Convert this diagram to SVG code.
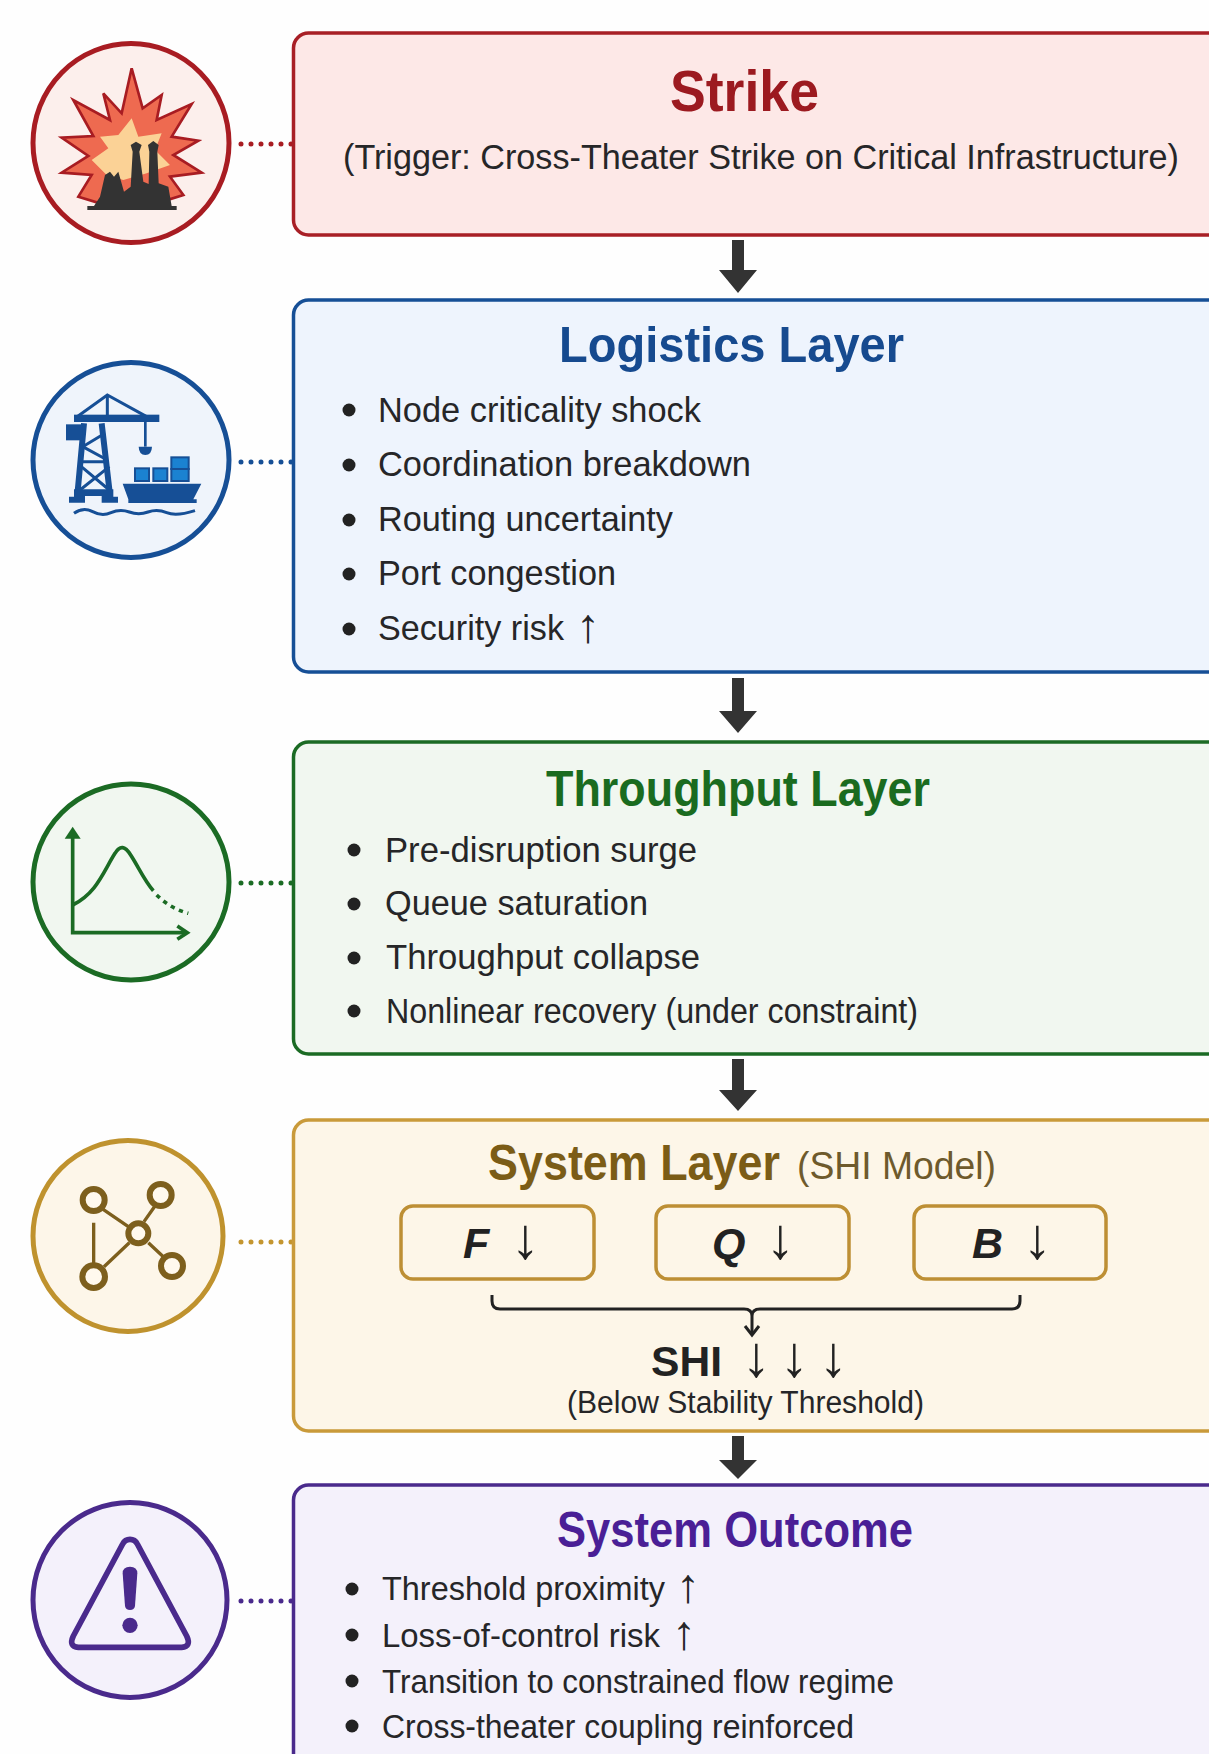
<svg xmlns="http://www.w3.org/2000/svg" width="1209" height="1754" viewBox="0 0 1209 1754">
<defs>
<style>
text{font-family:"Liberation Sans",Arial,sans-serif;fill:#262628}
.b{font-size:35px}
.t{font-weight:700;font-size:50px}
.h{fill:#333;stroke:none}
.dot{fill:none;stroke-width:5;stroke-linecap:round;stroke-dasharray:0 10}
.up{font-size:48px}
.dn{font-size:58px;font-weight:400;font-style:normal;fill:#222}
.fq{font-size:43px;font-weight:700;font-style:italic;fill:#222}
</style>
</defs>
<rect width="1209" height="1754" fill="#fefefe"/>
<g id="connectors">
<g class="h">
<path d="M732 240h12v30h13l-19 23l-19-23h13z"/>
<path d="M732 678h12v33h13l-19 22l-19-22h13z"/>
<path d="M732 1059h12v31h13l-19 21l-19-21h13z"/>
<path d="M732 1436h12v24h13l-19 19l-19-19h13z"/>
</g>
<path class="dot" stroke="#a81c22" d="M241 144H293"/>
<path class="dot" stroke="#164f96" d="M241 462H293"/>
<path class="dot" stroke="#1b6b24" d="M241 883H293"/>
<path class="dot" stroke="#c4952f" d="M241 1242H293"/>
<path class="dot" stroke="#4a2a8c" d="M241 1601H293"/>
</g>

<g id="strike">
<rect x="293.500" y="33" width="1000" height="202" rx="15" fill="#fde8e7" stroke="#a81f26" stroke-width="3.500"/>
<text class="t" x="670" y="111" style="font-size:57px;fill:#9c1a20" textLength="149" lengthAdjust="spacingAndGlyphs">Strike</text>
<text class="b" x="343" y="169" textLength="836" lengthAdjust="spacingAndGlyphs">(Trigger: Cross-Theater Strike on Critical Infrastructure)</text>
<g id="strike-icon">
<ellipse cx="131" cy="143" rx="98" ry="99.500" fill="#fcefec" stroke="#a81c22" stroke-width="5"/>
<g transform="scale(.33333)">
<path d="M395 205L428 325L485 285L470 360L575 312L515 410L595 422L520 465L605 518L510 530L550 585L470 610L300 610L235 590L275 525L185 518L265 468L185 413L280 408L220 300L330 360L310 280L365 340Z" fill="#ee6a50" stroke="#a81c22" stroke-width="8" stroke-linejoin="miter"/>
<path d="M395 355L415 410L485 400L465 450L510 495L440 520L370 540L320 525L275 480L325 445L300 410L355 405Z" fill="#fbd296"/>
<path d="M262 630V618H282L300 590L315 525L330 515L342 530L355 515L372 575L392 560L398 455L392 435L408 425L425 435L418 455L430 545L446 552L448 455L444 435L460 423L476 435L472 455L476 550L505 560L515 618H530V630Z" fill="#333"/>
</g>
</g>
</g>

<g id="logistics">
<rect x="293.500" y="300" width="1000" height="372" rx="15" fill="#eef4fd" stroke="#164f96" stroke-width="3.500"/>
<text class="t" x="559" y="362" style="fill:#164a8f" textLength="345" lengthAdjust="spacingAndGlyphs">Logistics Layer</text>
<g fill="#222"><circle cx="349" cy="410" r="6.500"/><circle cx="349" cy="465" r="6.500"/><circle cx="349" cy="520" r="6.500"/><circle cx="349" cy="574" r="6.500"/><circle cx="349" cy="629" r="6.500"/></g>
<text class="b" x="378" y="422" textLength="323" lengthAdjust="spacingAndGlyphs">Node criticality shock</text>
<text class="b" x="378" y="476" textLength="373" lengthAdjust="spacingAndGlyphs">Coordination breakdown</text>
<text class="b" x="378" y="531" textLength="295" lengthAdjust="spacingAndGlyphs">Routing uncertainty</text>
<text class="b" x="378" y="585" textLength="238" lengthAdjust="spacingAndGlyphs">Port congestion</text>
<text class="b" x="378" y="640"><tspan textLength="186" lengthAdjust="spacingAndGlyphs">Security risk</tspan> <tspan class="up" x="576" y="642">↑</tspan></text>
<g id="logistics-icon">
<ellipse cx="131" cy="460" rx="98" ry="97.500" fill="#eff4fb" stroke="#164f96" stroke-width="5"/>
<g transform="translate(0 340) scale(.33333)">
<g fill="none" stroke="#164f96">
<path d="M225 235L322 165L440 230M322 165V225" stroke-width="9"/>
<path d="M436 240V320" stroke-width="8"/>
<path d="M252 250L232 465M305 250L330 465" stroke-width="18"/>
<path d="M248 320L315 280M248 320L322 360M240 365H322M244 380L328 450M328 380L240 450" stroke-width="9"/>
<path d="M222 520Q250 500 278 515T333 518T388 516T444 516T500 518T585 512" stroke-width="9"/>
</g>
<g fill="#164f96">
<rect x="222" y="224" width="256" height="22"/>
<rect x="198" y="253" width="50" height="48"/>
<path d="M222 448H340V470H354V488H305V468H255V488H207V470H222Z"/>
<path d="M416 320H456Q455 345 436 345Q417 345 416 320Z"/>
<path d="M368 431H604L580 478H590V489H385V478Z"/>
</g>
<g fill="#1b82d1" stroke="#164f96" stroke-width="6">
<rect x="405" y="385" width="42" height="38"/>
<rect x="460" y="385" width="42" height="38"/>
<rect x="514" y="352" width="52" height="35"/>
<rect x="514" y="387" width="52" height="36"/>
</g>
</g>
</g>
</g>

<g id="throughput">
<rect x="293.500" y="742" width="1000" height="312" rx="15" fill="#f1f7f0" stroke="#1b6b24" stroke-width="3.500"/>
<text class="t" x="546" y="806" style="fill:#1a6b1f" textLength="384" lengthAdjust="spacingAndGlyphs">Throughput Layer</text>
<g fill="#222"><circle cx="354" cy="850" r="6.500"/><circle cx="354" cy="904" r="6.500"/><circle cx="354" cy="958" r="6.500"/><circle cx="354" cy="1011" r="6.500"/></g>
<text class="b" x="385" y="862" textLength="312" lengthAdjust="spacingAndGlyphs">Pre-disruption surge</text>
<text class="b" x="385" y="915" textLength="263" lengthAdjust="spacingAndGlyphs">Queue saturation</text>
<text class="b" x="386" y="969" textLength="314" lengthAdjust="spacingAndGlyphs">Throughput collapse</text>
<text class="b" x="386" y="1023" textLength="532" lengthAdjust="spacingAndGlyphs">Nonlinear recovery (under constraint)</text>
<g id="throughput-icon">
<ellipse cx="131" cy="882" rx="98" ry="98" fill="#f1f7f0" stroke="#1b6b24" stroke-width="5"/>
<g transform="translate(0 760) scale(.33333)" fill="none" stroke="#1b6b24">
<path d="M218 225V518H555" stroke-width="11"/>
<path d="M194 236L218 200L242 236Z" fill="#1b6b24" stroke="none"/>
<path d="M532 498L562 518L532 538" stroke-width="11"/>
<path d="M218 435C290 400 310 335 345 280C360 255 375 258 392 285C415 320 435 365 460 392" stroke-width="11"/>
<path d="M470 405Q510 445 565 460" stroke-width="11" stroke-dasharray="13 14"/>
</g>
</g>
</g>

<g id="system">
<rect x="293.500" y="1120" width="1000" height="311" rx="15" fill="#fdf6e8" stroke="#c99a3a" stroke-width="3.500"/>
<text class="t" x="488" y="1180" style="fill:#7b5c16" textLength="292" lengthAdjust="spacingAndGlyphs">System Layer</text>
<text x="797" y="1179" style="font-size:38px;fill:#6e5a2c" textLength="199" lengthAdjust="spacingAndGlyphs">(SHI Model)</text>
<g fill="#fdf6e8" stroke="#bd8f34" stroke-width="3.500">
<rect x="401" y="1206" width="193" height="73" rx="12"/>
<rect x="656" y="1206" width="193" height="73" rx="12"/>
<rect x="914" y="1206" width="192" height="73" rx="12"/>
</g>
<text class="fq" x="463" y="1258">F<tspan class="dn" x="511" y="1258">↓</tspan></text>
<text class="fq" x="712" y="1258">Q<tspan class="dn" x="766" y="1258">↓</tspan></text>
<text class="fq" x="972" y="1258">B<tspan class="dn" x="1023" y="1258">↓</tspan></text>
<path d="M492 1295V1301Q492 1309 500 1309H744Q752 1309 752 1316Q752 1309 760 1309H1012Q1020 1309 1020 1301V1295" fill="none" stroke="#222" stroke-width="3"/>
<path d="M752 1316V1334" fill="none" stroke="#222" stroke-width="3"/>
<path d="M745 1326L752 1335L759 1326" fill="none" stroke="#222" stroke-width="3"/>
<text x="651" y="1376" style="font-size:43px;font-weight:700;fill:#222"><tspan textLength="71" lengthAdjust="spacingAndGlyphs">SHI</tspan> <tspan class="dn" x="742" y="1376">↓</tspan><tspan class="dn" x="780" y="1376">↓</tspan><tspan class="dn" x="819" y="1376">↓</tspan></text>
<text x="567" y="1413" style="font-size:31px" textLength="357" lengthAdjust="spacingAndGlyphs">(Below Stability Threshold)</text>
<g id="system-icon">
<ellipse cx="128" cy="1236" rx="95" ry="95.500" fill="#fdf6e9" stroke="#bf922e" stroke-width="5"/>
<g transform="translate(0 1120) scale(.33333)" fill="#fff9ee" stroke="#7d5f1d">
<path d="M305 265L385 320M432 305L465 258M445 368L490 410M312 440L388 368M281 308V430" stroke-width="10" fill="none"/>
<circle cx="281" cy="240" r="33" stroke-width="18"/>
<circle cx="482" cy="225" r="33" stroke-width="18"/>
<circle cx="415" cy="340" r="30" stroke-width="18"/>
<circle cx="516" cy="438" r="33" stroke-width="18"/>
<circle cx="281" cy="470" r="34" stroke-width="18"/>
</g>
</g>
</g>

<g id="outcome">
<rect x="293.500" y="1485" width="1000" height="400" rx="15" fill="#f4f1fb" stroke="#4a2a8c" stroke-width="3.500"/>
<text class="t" x="557" y="1547" style="fill:#4a1f96" textLength="356" lengthAdjust="spacingAndGlyphs">System Outcome</text>
<g fill="#222"><circle cx="352" cy="1589" r="6.500"/><circle cx="352" cy="1635" r="6.500"/><circle cx="352" cy="1681" r="6.500"/><circle cx="352" cy="1726" r="6.500"/></g>
<text class="b" x="382" y="1600" style="font-size:33px"><tspan textLength="283" lengthAdjust="spacingAndGlyphs">Threshold proximity</tspan> <tspan class="up" x="676" y="1602">↑</tspan></text>
<text class="b" x="382" y="1647" style="font-size:33px"><tspan textLength="278" lengthAdjust="spacingAndGlyphs">Loss-of-control risk</tspan> <tspan class="up" x="672" y="1649">↑</tspan></text>
<text class="b" x="382" y="1693" style="font-size:33px" textLength="512" lengthAdjust="spacingAndGlyphs">Transition to constrained flow regime</text>
<text class="b" x="382" y="1738" style="font-size:33px" textLength="472" lengthAdjust="spacingAndGlyphs">Cross-theater coupling reinforced</text>
<g id="outcome-icon">
<ellipse cx="130" cy="1600" rx="97" ry="97.500" fill="#f4f1fb" stroke="#4a2a8c" stroke-width="5"/>
<g transform="translate(0 1480) scale(.33333)">
<path d="M390 178Q405 178 412 192L560 468Q575 500 545 502H235Q205 500 220 468L368 192Q375 178 390 178Z" fill="none" stroke="#4a2a8c" stroke-width="17" stroke-linejoin="round"/>
<path d="M368 280Q368 260 390 260Q412 260 412 280L405 378Q403 390 390 390Q377 390 375 378Z" fill="#4a2a8c"/>
<circle cx="390" cy="436" r="23" fill="#4a2a8c"/>
</g>
</g>
</g>
</svg>
